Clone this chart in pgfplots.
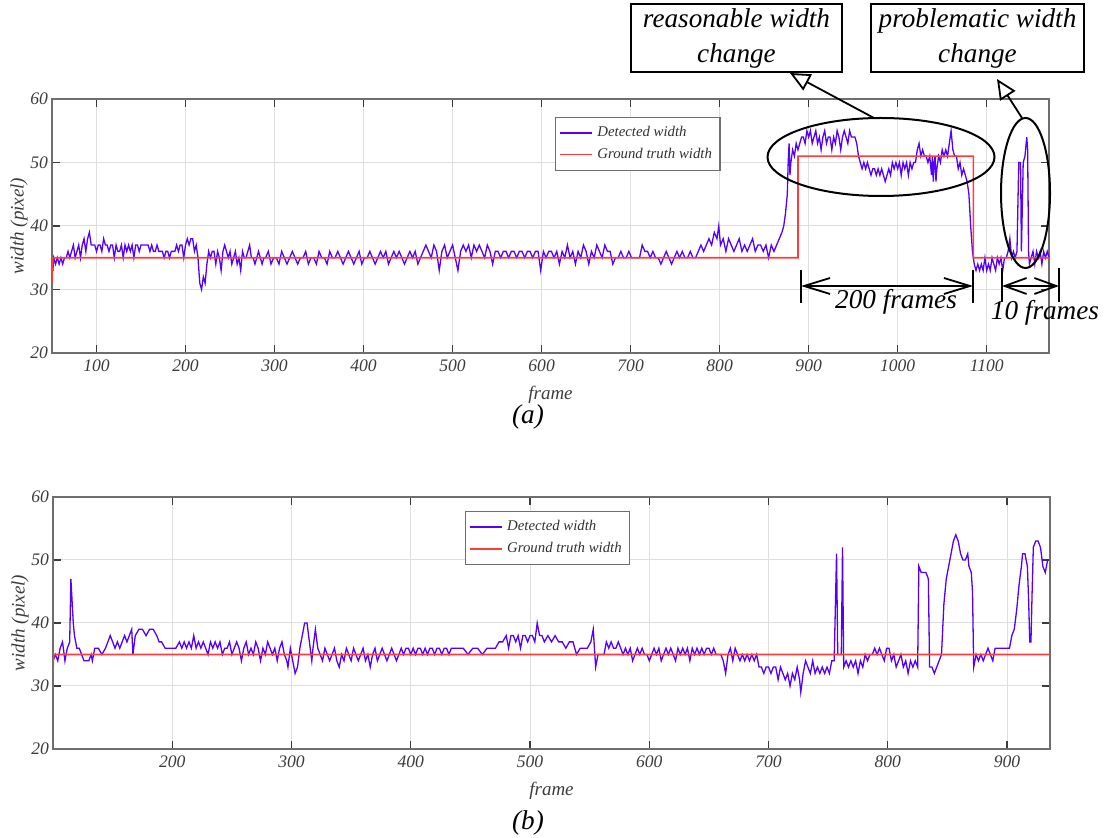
\documentclass[border=0pt]{standalone}
\usepackage{fontspec}
\setmainfont{Liberation Serif}
\usepackage{pgfplots}
\pgfplotsset{compat=1.18}
\usetikzlibrary{arrows.meta}
\definecolor{detc}{RGB}{85,0,255}
\definecolor{gtc}{RGB}{255,60,60}
\definecolor{axc}{RGB}{110,110,110}
\definecolor{gridc}{RGB}{222,222,222}
\definecolor{tickc}{RGB}{60,60,60}
\pgfplotsset{mystyle/.style={
  scale only axis, width=498.5pt,
  ymin=20, ymax=60, ytick={20,30,...,60},
  axis line style={axc, line width=0.8pt},
  grid=major, grid style={gridc, line width=0.5pt},
  tick align=inside, tick style={tickc, line width=0.6pt}, major tick length=4pt,
  xtick pos=both, ytick pos=both,
  ticklabel style={font=\fontsize{8.8}{10}\selectfont\itshape, text=tickc},
  yticklabel style={xshift=1.5pt},
  /pgf/number format/assume math mode=true,
  /pgf/number format/1000 sep={},
  xlabel={frame}, ylabel={width (pixel)},
  label style={font=\fontsize{9.5}{10}\selectfont\itshape, text=tickc},
  ylabel style={at={(axis description cs:-0.033,0.5)}, anchor=center},
  legend style={font=\fontsize{7.4}{8.5}\selectfont\itshape, draw=axc, line width=0.6pt,
    inner xsep=2pt, inner ysep=2.5pt, row sep=0pt, text=black!80},
  legend cell align=left,
  legend image code/.code={\draw[#1, line width=0.9pt] (0pt,0pt) -- (16pt,0pt);},
}}
\begin{document}
\begin{tikzpicture}
\path[use as bounding box] (0pt,0pt) rectangle (556pt,-419pt);
% ---------------- (a) ----------------
\begin{axis}[mystyle, name=top, at={(26pt,-49.5pt)}, anchor=north west, height=127pt,
  xmin=50, xmax=1170, xtick={100,200,...,1100},
  legend style={at={(0.5045,0.929)}, anchor=north west}]
\addplot[color=detc, line width=0.65pt] coordinates {
(50,33)(51,33)(52,35)(54,34)(56,35)(58,34)(60,35)(62,34)(64,35)(66,35)(68,36)(70,35)(72,36)(74,37)(76,35)(78,36)(80,37)(82,35)(84,37)(86,38)(88,36)(90,38)(92,39)(94,37)(96,37)(98,37)(100,36)(102,37)(104,37)(106,36)(108,38)(110,37)(112,37)(114,36)(116,37)(118,37)(120,35)(122,37)(124,36)(126,36)(128,37)(130,35)(132,37)(134,36)(136,37)(138,36)(140,37)(142,35)(144,37)(146,37)(148,36)(150,37)(152,37)(154,37)(156,37)(158,37)(160,36)(162,37)(164,36)(166,36)(168,37)(170,36)(172,36)(174,36)(176,35)(178,36)(180,36)(182,35)(184,36)(186,36)(188,36)(190,37)(192,36)(194,37)(196,37)(198,35)(200,37)(202,38)(204,37)(206,38)(208,38)(210,36)(212,37)(214,35)(216,31)(218,30)(220,32)(222,31)(224,34)(226,36)(228,35)(230,36)(232,36)(234,34)(236,36)(238,35)(240,33)(242,36)(244,37)(246,36)(248,35)(250,36)(252,34)(254,35)(256,36)(258,34)(260,35)(262,33)(264,36)(266,35)(268,35)(270,36)(272,37)(274,35)(276,35)(278,34)(280,35)(282,36)(284,35)(286,34)(288,35)
(290,35)(293,36)(296,34)(299,35)(302,35)(305,34)(308,36)(311,35)(314,34)(317,35)(320,36)(323,35)(326,34)(329,35)(332,35)(335,36)(338,34)(341,35)(344,35)(347,34)(350,36)(353,35)(356,35)(359,34)(362,36)(365,35)(368,35)(371,36)(374,35)(377,34)(380,35)(383,36)(386,35)(389,34)(392,35)(395,36)(398,34)(401,35)(404,35)(407,36)(410,35)(413,34)(416,35)(419,36)(422,35)(425,36)(428,34)(431,35)(434,36)(437,35)(440,36)(443,35)(446,34)(449,35)(452,36)(455,35)(458,36)(461,34)(464,35)(467,36)(470,37)(473,36)(476,35)(479,37)(482,36)(485,33)(488,36)(491,37)(494,35)(497,36)(500,37)(503,35)(506,33)(509,36)(512,37)(515,36)(518,37)(521,35)(524,37)(527,36)(530,37)(533,36)(536,35)(539,37)(542,36)(545,34)(548,36)(551,36)(554,35)(557,36)(560,36)(563,35)(566,36)(569,36)(572,35)(575,36)(578,36)(581,35)(584,36)(587,36)(590,35)(593,36)(596,36)(599,33)(602,36)(605,35)(608,36)
(611,36)(614,35)(617,36)(620,34)(623,36)(626,35)(629,37)(632,35)(635,36)(638,34)(641,36)(644,35)(647,37)(650,36)(653,34)(656,36)(659,35)(662,37)(665,36)(668,35)(671,37)(674,36)(677,36)(680,34)(683,35)(686,35)(689,36)(692,35)(695,35)(698,36)(701,35)(704,35)(707,35)(710,35)(713,37)(716,36)(719,36)(722,35)(725,36)(728,35)(731,35)(734,34)(737,35)(740,36)(743,35)(746,34)(749,35)(752,36)(755,35)(758,36)(761,35)(764,35)(767,36)(770,35)(773,35)(776,36)(779,37)(782,36)(785,37)(788,38)(791,37)(794,39)(797,38)(799,40)(801,37)(804,38)(807,36)(810,38)(813,37)(816,36)(819,37)(822,38)(825,36)(828,37)(831,36)(834,37)(837,38)(840,36)(843,37)(846,37)(849,36)(852,37)(855,35)(858,37)(861,36)(864,37)(867,38)(870,39)(872,40)(874,42)(876,45)(877,50)(878,53)(879,48)(880,50)(882,52)(884,51)(886,53)(888,52)(890,53)(892,54)(894,54)(896,53)(898,55)(900,54)(902,55)(904,53)(906,54)(908,55)(910,53)(912,54)(914,52)(916,54)(918,55)(920,53)(922,54)(924,54)(926,52)(928,54)(930,53)(932,55)(934,54)(936,52)(938,54)(940,55)(942,54)(944,53)(946,55)(948,54)(950,54)(952,54)(954,53)(956,51)(958,50)(960,49)(962,50)(964,49)(966,50)(968,49)(970,48)(972,49)(974,49)(976,48)(978,49)(980,48)(982,49)(984,48)(986,47)(988,48)(990,49)(992,48)(994,50)(996,49)(998,50)(1000,49)(1002,50)(1004,48)(1006,50)(1008,49)(1010,50)(1012,48)(1014,50)(1016,49)(1018,50)(1020,50)(1022,52)(1024,53)(1026,51)(1028,52)(1030,51)(1032,51)(1034,50)(1036,51)(1038,48)(1039,51)(1040,47)(1041,50)(1042,51)(1043,47)(1044,49)(1046,51)(1048,50)(1050,52)(1052,51)(1054,52)(1056,51)(1058,53)(1060,55)(1062,52)(1064,51)(1066,51)(1068,49)(1070,50)(1072,48)(1074,49)(1076,48)(1078,47)(1080,45)(1082,40)(1084,36)(1086,34)(1088,33)(1090,34)(1092,33)(1094,34)(1096,33)(1098,35)(1100,33)(1102,34)(1104,33)(1106,35)(1108,34)(1110,33)(1112,35)(1114,34)(1116,35)(1118,33)(1120,35)(1122,35)(1124,36)(1126,38)(1128,35)(1130,36)(1132,35)(1134,36)(1136,50)(1138,50)(1139,36)(1141,50)(1143,51)(1145,54)(1146,52)(1147,36)(1148,34)(1150,35)(1152,36)(1154,34)(1156,36)(1158,35)(1160,36)(1162,34)(1164,36)(1166,35)(1168,36)(1170,35)
};
\addlegendentry{Detected width}
\addplot[color=gtc, line width=0.8pt] coordinates {(50,31)(51,35)(888,35)(888,51)(1085,51)(1085,35)(1170,35)};
\addlegendentry{Ground truth width}
\end{axis}
% ---------------- (b) ----------------
\begin{axis}[mystyle, name=bot, at={(26.5pt,-248.5pt)}, anchor=north west, height=126pt,
  xmin=100, xmax=936, xtick={200,300,...,900},
  legend style={at={(0.413,0.944)}, anchor=north west}]
\addplot[color=detc, line width=0.65pt] coordinates {
(100,34)(102,35)(104,34)(106,36)(108,37)(110,34)(112,36)(114,37)(115,47)(117,40)(118,38)(120,36)(122,36)(124,35)(126,34)(128,34)(130,34)(132,35)(133,34)(135,36)(138,36)(141,35)(144,36)(146,37)(148,38)(150,37)(152,36)(154,37)(156,36)(158,37)(160,38)(162,37)(164,38)(166,39)(167,35)(169,38)(172,39)(175,39)(178,38)(181,39)(184,39)(187,38)(189,37)(191,37)(194,36)(197,36)(200,36)(203,36)(206,37)(208,36)(210,37)(212,36)(214,37)(216,36)(218,38)(220,36)(222,37)(224,36)(226,37)(228,36)(230,35)(232,37)(234,36)(236,37)(238,36)(240,37)(242,35)(244,36)(246,36)(248,37)(250,35)(252,36)(254,37)(256,36)(258,34)(260,36)(262,37)(264,35)(266,36)(268,35)(270,37)(272,36)(274,34)(276,36)(278,35)(280,37)(282,36)(284,35)(286,36)(288,34)(290,36)(292,37)(294,35)(296,34)(297,33)(299,36)(301,34)(303,32)(305,33)(307,36)(309,38)(311,40)(313,40)(315,37)(317,34)(318,36)(320,39)(322,36)(324,35)(326,34)(328,36)(330,35)(332,34)(334,35)(336,36)(338,34)(340,33)(342,35)(344,34)(346,36)(348,35)(350,34)(352,36)(354,35)(356,34)(358,35)(360,36)(362,34)(364,35)(366,33)(368,35)(370,36)(372,34)(374,35)(376,36)(378,35)(380,34)(382,35)(384,36)(386,35)(388,34)(390,35)(392,36)(394,35)(396,36)(398,36)(400,35)(402,36)(404,35)(406,36)(408,36)(410,35)(412,36)(414,35)(416,36)(418,36)(420,35)(422,36)(424,36)(426,35)(428,36)(430,36)(432,35)(434,36)(436,36)(440,36)(444,36)(448,35)(452,36)(456,36)(460,35)(464,36)(468,36)(471,36)(474,37)(477,37)(480,38)(482,36)(484,38)(486,38)(488,37)(490,38)(492,36)(494,38)(496,38)(498,37)(500,38)(502,38)(504,37)(506,40)(508,38)(510,38)(512,37)(515,38)(518,37)(521,38)(524,37)(527,37)(530,36)(533,37)(536,37)(539,35)(542,36)(545,36)(548,36)(551,37)(553,39)(555,33)(557,35)(560,35)(562,35)(564,37)(566,36)(568,37)(570,36)(572,36)(574,37)(576,36)(578,35)(580,36)(582,35)(584,36)(586,34)(588,35)(590,36)(592,35)(594,36)(596,35)(598,35)(600,34)(602,35)(604,36)(606,35)(608,36)(610,34)(612,35)(614,36)(616,35)(618,36)(620,35)(622,34)(624,36)(626,35)(628,36)(630,35)(632,36)(634,34)(636,36)(638,35)(640,36)(642,35)(644,36)(646,35)(648,36)(650,36)(652,35)(654,36)(656,35)(658,35)(660,35)(662,34)(664,32)(666,35)(668,36)(670,34)(672,36)(674,35)(676,34)(678,35)(680,34)(682,35)(684,34)(686,35)(688,34)(690,35)(692,33)(694,33)(696,32)(698,33)(700,33)(702,32)(704,33)(706,33)(708,31)(710,33)(712,32)(714,31)(716,32)(718,30)(720,32)(722,31)(724,33)(726,31)(727,29)(729,32)(731,34)(733,33)(735,32)(737,34)(739,32)(741,33)(743,32)(745,33)(747,32)(749,33)(751,32)(753,34)(755,34)(757,51)(758,35)(760,35)(761,35)(762,52)(763,33)(765,34)(767,33)(769,34)(771,33)(773,34)(775,32)(777,34)(779,33)(781,35)(783,34)(785,35)(787,35)(789,36)(791,35)(793,36)(795,35)(797,34)(799,36)(801,36)(803,34)(805,35)(807,33)(809,34)(811,35)(813,33)(815,34)(817,32)(819,34)(821,33)(823,34)(825,33)(826,49)(828,48)(830,48)(832,48)(834,47)(835,33)(837,33)(839,32)(841,33)(843,34)(845,35)(847,43)(849,47)(851,49)(853,51)(855,53)(857,54)(859,53)(861,51)(863,50)(865,50)(867,51)(868,49)(870,48)(871,45)(872,33)(874,35)(876,34)(878,35)(880,34)(882,35)(884,36)(886,35)(888,34)(890,36)(893,36)(896,36)(899,36)(902,36)(904,38)(906,39)(908,42)(910,46)(912,49)(913,51)(915,51)(917,49)(918,44)(919,37)(920,37)(921,45)(922,52)(924,53)(926,53)(928,52)(930,49)(932,48)(934,50)(935,50)
};
\addlegendentry{Detected width}
\addplot[color=gtc, line width=0.8pt] coordinates {(100,32)(100.5,35)(936,35)};
\addlegendentry{Ground truth width}
\end{axis}
% ---------------- annotations ----------------
\begin{scope}[font=\fontsize{13.6}{17.5}\selectfont\itshape, line width=0.9pt]
\node[draw, minimum width=105.5pt, minimum height=34pt, align=center, inner sep=1pt] at (368.25pt,-19pt) {reasonable width\\change};
\node[draw, minimum width=106.5pt, minimum height=34pt, align=center, inner sep=1pt] at (488.75pt,-19pt) {problematic width\\change};
\draw[line width=1pt] (440.5pt,-78.5pt) ellipse [x radius=56.75pt, y radius=19.5pt];
\draw[line width=1pt] (512.75pt,-96.5pt) ellipse [x radius=12.25pt, y radius=37.5pt];
\draw[-{Triangle[open,length=10pt,width=9pt]}] (437pt,-59pt) -- (395pt,-36.5pt);
\draw[-{Triangle[open,length=10pt,width=9pt]}] (511pt,-59pt) -- (498.5pt,-39.5pt);
\draw (400.5pt,-135pt) -- (400.5pt,-151.5pt);
\draw (486.5pt,-135pt) -- (486.5pt,-151.5pt);
\draw[{Straight Barb[length=13pt,width=8pt]}-{Straight Barb[length=13pt,width=8pt]}] (400.5pt,-143pt) -- (486.5pt,-143pt);
\node at (448pt,-151pt) {200 frames};
\draw (501pt,-134pt) -- (501pt,-151pt);
\draw (529.5pt,-134pt) -- (529.5pt,-151pt);
\draw[{Straight Barb[length=11pt,width=8pt]}-{Straight Barb[length=11pt,width=8pt]}] (501pt,-143pt) -- (529.5pt,-143pt);
\node at (522.5pt,-156.5pt) {10 frames};
\node at (264pt,-208.5pt) {(a)};
\node at (264pt,-411.5pt) {(b)};
\end{scope}
\end{tikzpicture}
\end{document}
